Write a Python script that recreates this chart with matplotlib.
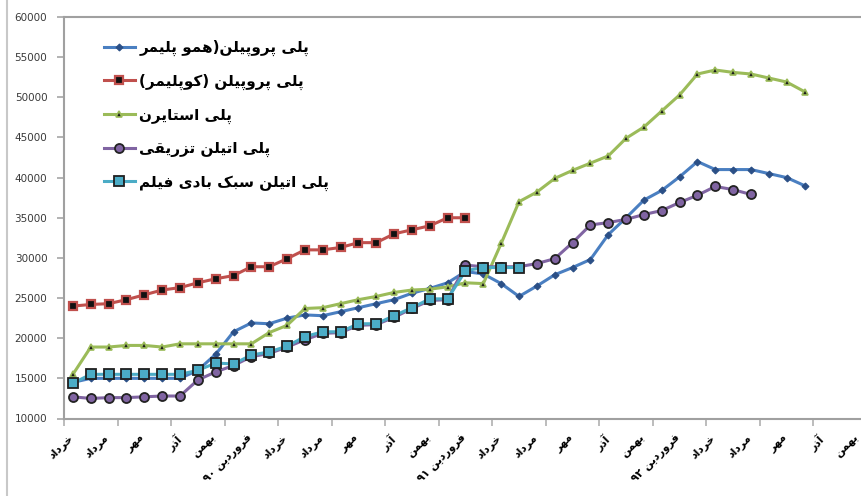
import re
import numpy as np
import matplotlib
matplotlib.use("Agg")
import matplotlib.pyplot as plt
import matplotlib.transforms as mtransforms
from matplotlib.lines import Line2D

# ---- data (monthly prices, Khordad 89 .. Bahman 92) ----
months = [
    "خرداد", "تیر", "مرداد", "شهریور", "مهر", "آبان", "آذر", "دی", "بهمن", "اسفند",
    "فروردین ۹۰", "اردیبهشت", "خرداد", "تیر", "مرداد", "شهریور", "مهر", "آبان", "آذر", "دی", "بهمن", "اسفند",
    "فروردین ۹۱", "اردیبهشت", "خرداد", "تیر", "مرداد", "شهریور", "مهر", "آبان", "آذر", "دی", "بهمن", "اسفند",
    "فروردین ۹۲", "اردیبهشت", "خرداد", "تیر", "مرداد", "شهریور", "مهر", "آبان", "آذر", "دی", "بهمن",
]

series_names = [
    "پلی پروپیلن(همو پلیمر",
    "پلی پروپیلن (کوپلیمر)",
    "پلی استایرن",
    "پلی اتیلن تزریقی",
    "پلی اتیلن سبک بادی فیلم",
]

pp_homo = [14500, 15000, 15000, 15000, 15000, 15000, 15000, 16000, 18000, 20800,
           21900, 21800, 22500, 22900, 22800, 23300, 23800, 24300, 24800, 25600,
           26200, 26900, 28300, 28000, 26800, 25200, 26500, 27900, 28800, 29800,
           32900, 35000, 37200, 38400, 40100, 42000, 41000, 41000, 41000, 40500,
           40000, 39000]

pp_copo = [24000, 24200, 24300, 24800, 25400, 26000, 26300, 26900, 27400, 27800,
           28900, 28900, 29900, 31000, 31000, 31300, 31900, 31900, 33000, 33500,
           34000, 35000, 35000]

polystyrene = [15500, 18900, 18900, 19100, 19100, 18900, 19300, 19300, 19300, 19300,
               19300, 20700, 21600, 23700, 23800, 24300, 24800, 25200, 25700, 26000,
               26100, 26400, 26900, 26800, 31800, 37000, 38200, 39900, 40900, 41800,
               42700, 44900, 46300, 48300, 50300, 52900, 53400, 53100, 52900, 52400,
               51900, 50700]

pe_injection = [12700, 12500, 12600, 12600, 12700, 12800, 12800, 14800, 15800, 16600,
                17700, 18100, 18900, 19800, 20600, 20700, 21600, 21700, 22600, 23700,
                24700, 24800, 29100, 28900, 28900, 28900, 29300, 29900, 31900, 34100,
                34400, 34800, 35400, 35900, 36900, 37800, 38900, 38500, 37900]

lldpe_film = [14400, 15500, 15500, 15500, 15500, 15500, 15500, 16000, 16900, 16800,
              17900, 18300, 19000, 20200, 20800, 20800, 21800, 21800, 22800, 23800,
              24900, 24900, 28400, 28800, 28800, 28800]

y_ticks = [10000, 15000, 20000, 25000, 30000, 35000, 40000, 45000, 50000, 55000, 60000]

# ---- minimal Persian shaping (presentation forms + visual order) ----
FORMS = {
    'ا': ('\uFE8D', '\uFE8E', None, None),
    'آ': ('\uFE81', '\uFE82', None, None),
    'ب': ('\uFE8F', '\uFE90', '\uFE91', '\uFE92'),
    'پ': ('\uFB56', '\uFB57', '\uFB58', '\uFB59'),
    'ت': ('\uFE95', '\uFE96', '\uFE97', '\uFE98'),
    'خ': ('\uFEA5', '\uFEA6', '\uFEA7', '\uFEA8'),
    'د': ('\uFEA9', '\uFEAA', None, None),
    'ذ': ('\uFEAB', '\uFEAC', None, None),
    'ر': ('\uFEAD', '\uFEAE', None, None),
    'ز': ('\uFEAF', '\uFEB0', None, None),
    'س': ('\uFEB1', '\uFEB2', '\uFEB3', '\uFEB4'),
    'ش': ('\uFEB5', '\uFEB6', '\uFEB7', '\uFEB8'),
    'ف': ('\uFED1', '\uFED2', '\uFED3', '\uFED4'),
    'ق': ('\uFED5', '\uFED6', '\uFED7', '\uFED8'),
    'ک': ('\uFB8E', '\uFB8F', '\uFB90', '\uFB91'),
    'ل': ('\uFEDD', '\uFEDE', '\uFEDF', '\uFEE0'),
    'م': ('\uFEE1', '\uFEE2', '\uFEE3', '\uFEE4'),
    'ن': ('\uFEE5', '\uFEE6', '\uFEE7', '\uFEE8'),
    'ه': ('\uFEE9', '\uFEEA', '\uFEEB', '\uFEEC'),
    'و': ('\uFEED', '\uFEEE', None, None),
    'ی': ('\uFBFC', '\uFBFD', '\uFBFE', '\uFBFF'),
}
MIRROR = {'(': ')', ')': '('}


def rtl(text):
    out = []
    for i, ch in enumerate(text):
        f = FORMS.get(ch)
        if f is None:
            out.append(ch)
            continue
        prev = text[i - 1] if i > 0 else ''
        nxt = text[i + 1] if i + 1 < len(text) else ''
        join_prev = prev in FORMS and FORMS[prev][2] is not None
        join_next = f[2] is not None and nxt in FORMS
        if join_prev and join_next:
            out.append(f[3])
        elif join_prev:
            out.append(f[1])
        elif join_next:
            out.append(f[2])
        else:
            out.append(f[0])
    runs = re.findall(r'[0-9\u06F0-\u06F9]+|[^0-9\u06F0-\u06F9]', ''.join(out))
    return ''.join(MIRROR.get(r, r) for r in reversed(runs))


# ---- figure ----
W, H = 862, 496
fig = plt.figure(figsize=(W / 100, H / 100), dpi=100)
ax_left, ax_right, ax_top, ax_bottom = 64, 867, 17, 418.5
ax = fig.add_axes([ax_left / W, 1 - ax_bottom / H,
                   (ax_right - ax_left) / W, (ax_bottom - ax_top) / H])

styles = [
    dict(color='#4a7fc1', marker='D', ms=3.5, mfc='#2b4f86', mec='#2b4f86', mew=0.8),
    dict(color='#c0504d', marker='s', ms=6, mfc='#111111', mec='#c0504d', mew=1.6),
    dict(color='#9bbb59', marker='^', ms=4.5, mfc='#1a1a1a', mec='#9bbb59', mew=1.2),
    dict(color='#8064a2', marker='o', ms=6.5, mfc='#8064a2', mec='#222222', mew=1.3),
    dict(color='#4bacc6', marker='s', ms=7, mfc='#4bacc6', mec='#1f1f1f', mew=1.3),
]
all_series = [pp_homo, pp_copo, polystyrene, pe_injection, lldpe_film]

for z, (vals, name, st) in enumerate(zip(all_series, series_names, styles)):
    x = np.arange(len(vals))
    ax.plot(x, vals, lw=2.2, label=rtl(name), zorder=3 + z, **st)

ax.set_xlim(-0.5, len(months) - 0.5)
ax.set_ylim(y_ticks[0], y_ticks[-1])

# y axis
ax.set_yticks(y_ticks)
ax.set_yticklabels([str(v) for v in y_ticks])
ax.tick_params(axis='y', length=5, width=1.2, color='#a6a6a6', pad=7,
               labelsize=7.5, labelcolor='#3a3a3a')

# x axis: month names every second month, tick marks every third month boundary
label_idx = list(range(0, len(months), 2))
ax.set_xticks(label_idx)
ax.set_xticklabels([])
ax.tick_params(axis='x', which='major', length=0)
ax.set_xticks(np.arange(-0.5, len(months), 3), minor=True)
ax.tick_params(axis='x', which='minor', length=5, width=1.2, color='#b0b0b0')

label_tr = (mtransforms.blended_transform_factory(ax.transData, ax.transAxes)
            + mtransforms.ScaledTranslation(-5 / 100, -14 / 100, fig.dpi_scale_trans))
for i in label_idx:
    ax.text(i, 0, rtl(months[i]), transform=label_tr, rotation=45,
            ha='right', va='top', rotation_mode='anchor', fontsize=7.8,
            fontweight='bold', family='DejaVu Sans', color='black',
            clip_on=False)

for side in ('left', 'top', 'bottom'):
    ax.spines[side].set_color('#a0a0a0')
    ax.spines[side].set_linewidth(1.5)
ax.spines['right'].set_visible(False)

# outer chart frame edge on the left
fig.add_artist(Line2D([7.5 / W, 7.5 / W], [0, 1], color='#c8c8c8', lw=1.5))

leg = ax.legend(loc='upper left', bbox_to_anchor=(104 / W, 1 - 40 / H),
                bbox_transform=fig.transFigure, frameon=False,
                prop=dict(family='DejaVu Sans', size=11, weight='bold'),
                handlelength=2.0, handletextpad=0.3, labelspacing=1.15,
                borderpad=0, borderaxespad=0)

fig.savefig('out.png', dpi=100)
